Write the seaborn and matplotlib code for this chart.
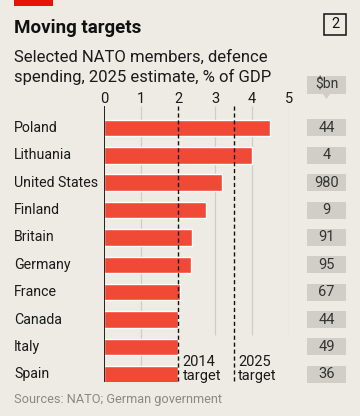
import matplotlib
matplotlib.use("Agg")
import matplotlib.pyplot as plt
import matplotlib.patches as mpatches
import matplotlib.transforms as mtransforms
import seaborn as sns
import pandas as pd

# Data
countries = ["Poland", "Lithuania", "United States", "Finland", "Britain",
             "Germany", "France", "Canada", "Italy", "Spain"]
pct_gdp = [4.48, 4.0, 3.2, 2.77, 2.39, 2.35, 2.05, 2.0, 2.0, 2.0]
spend_bn = ["44", "4", "980", "9", "91", "95", "67", "44", "49", "36"]
targets = [2.0, 3.5]
target_labels = ["2014\ntarget", "2025\ntarget"]
x_ticks = [0, 1, 2, 3, 4, 5]

BG = "#EDEBE3"
RED = "#F04A36"
BOX = "#D0CEC7"

sns.set_theme(style="white")
plt.rcParams["font.family"] = ["Roboto", "DejaVu Sans"]

W, H = 360, 416
fig = plt.figure(figsize=(W / 100, H / 100), dpi=100, facecolor=BG)


def fx(x):
    return x / W


def fy(y):
    return 1 - y / H


# main axes: x 0..5 spans px 104..289, rows span px 106..382
ax = fig.add_axes([fx(104), fy(382), (289 - 104) / W, (382 - 106) / H])
ax.set_facecolor(BG)
ax.patch.set_alpha(0)

df = pd.DataFrame({"country": countries, "pct": pct_gdp})
sns.barplot(data=df, x="pct", y="country", orient="h", color=RED,
            width=0.6, saturation=1, ax=ax, zorder=2)

ax.set_xlim(0, 5)
ax.set_ylim(9.28, -0.8)
for s in ax.spines.values():
    s.set_visible(False)
ax.set_xlabel("")
ax.set_ylabel("")
ax.set_yticks([])
ax.xaxis.tick_top()
ax.set_xticks(x_ticks)
ax.tick_params(axis="x", length=0, pad=0, labelsize=10.5, labelcolor="#1a1a1a")

# gridlines (3-5 stop short to leave room for target labels)
ax.vlines([1], -0.8, 9.28, color="#cfcdc6", lw=0.9, zorder=1)
ax.vlines([3, 4, 5], -0.8, 7.57, color="#cfcdc6", lw=0.9, zorder=1)
ax.vlines([0], -0.8, 9.28, color="#111111", lw=1.3, zorder=3)
ax.vlines(targets, -0.8, 9.28, color="#111111", lw=1.0,
          linestyles=(0, (3, 2)), zorder=3)
for t, lab in zip(targets, target_labels):
    ax.text(t + 0.13, 9.3, lab, ha="left", va="bottom", fontsize=10.5,
            color="#1a1a1a", linespacing=0.95)

# country labels and value boxes
trans = mtransforms.blended_transform_factory(fig.transFigure, ax.transData)
for i, (c, v) in enumerate(zip(countries, spend_bn)):
    ax.text(fx(14), i, c, transform=trans, ha="left", va="center",
            fontsize=10.2, color="#1a1a1a")
    ax.add_patch(mpatches.Rectangle((fx(307), i - 0.31), fx(39), 0.62,
                                    transform=trans, facecolor=BOX,
                                    edgecolor="none", clip_on=False))
    ax.text(fx(326.5), i, v, transform=trans, ha="center", va="center",
            fontsize=10.5, color="#333333")

# "$bn" header with pointer
bn = mpatches.Polygon([(fx(307), fy(76)), (fx(346), fy(76)), (fx(346), fy(94)),
                       (fx(330), fy(94)), (fx(326.5), fy(99)), (fx(323), fy(94)),
                       (fx(307), fy(94))], closed=True,
                      transform=fig.transFigure, facecolor=BOX, edgecolor="none")
fig.patches.append(bn)
fig.text(fx(326.5), fy(85), "$bn", ha="center", va="center", fontsize=10,
         color="#333333")

# header
fig.patches.append(mpatches.Rectangle((fx(14), fy(6)), fx(39), 6 / H,
                                      transform=fig.transFigure,
                                      facecolor="#E3120B", edgecolor="none"))
fig.text(fx(14), fy(28), "Moving targets", ha="left", va="center",
         fontsize=13.5, fontweight="bold", color="#111111")
fig.patches.append(mpatches.Rectangle((fx(324), fy(35)), fx(22), 21 / H,
                                      transform=fig.transFigure,
                                      facecolor="none", edgecolor="#111111",
                                      lw=1.1))
fig.text(fx(335), fy(24.5), "2", ha="center", va="center", fontsize=10.5,
         color="#111111")
fig.text(fx(14), fy(57), "Selected NATO members, defence", ha="left",
         va="center", fontsize=12, color="#1a1a1a")
fig.text(fx(14), fy(77), "spending, 2025 estimate, % of GDP", ha="left",
         va="center", fontsize=12, color="#1a1a1a")

fig.text(fx(14), fy(400), "Sources: NATO; German government", ha="left",
         va="center", fontsize=9.2, color="#8a8984")

fig.savefig("out.png", dpi=100, facecolor=BG)
